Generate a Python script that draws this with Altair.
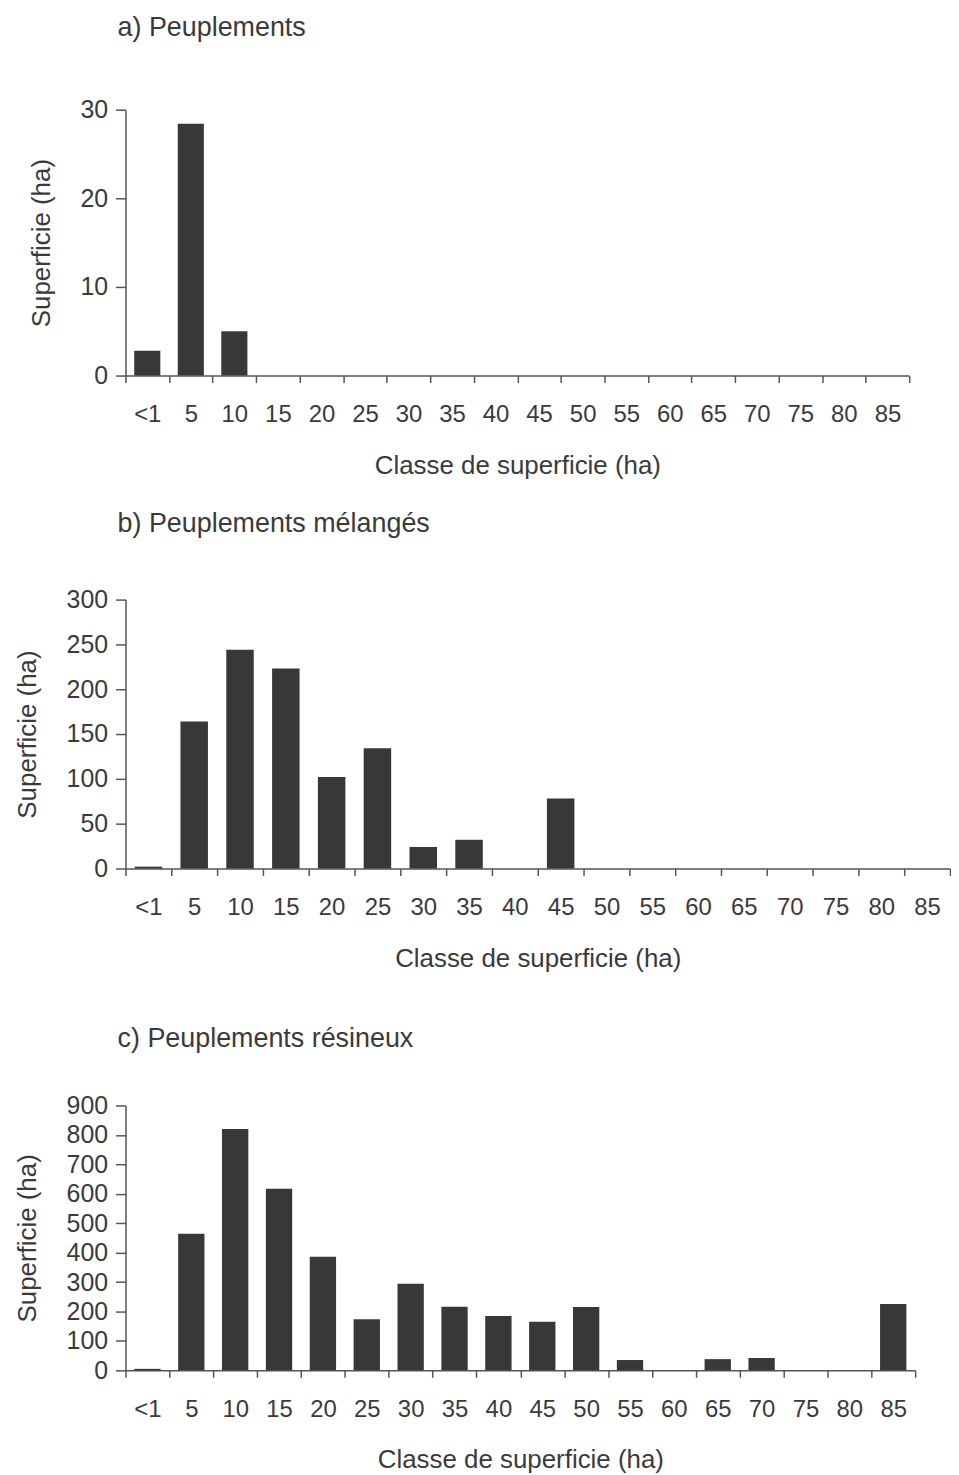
import altair as alt
import pandas as pd

categories = ["<1", "5", "10", "15", "20", "25", "30", "35", "40", "45",
              "50", "55", "60", "65", "70", "75", "80", "85"]

# a) Peuplements
peuplements = [2.8, 28.4, 5.0, 0, 0, 0, 0, 0, 0, 0, 0, 0, 0, 0, 0, 0, 0, 0]
# b) Peuplements mélangés
melanges = [2, 164, 244, 223, 102, 134, 24, 32, 0, 78, 0, 0, 0, 0, 0, 0, 0, 0]
# c) Peuplements résineux
resineux = [5, 464, 820, 617, 386, 174, 294, 216, 185, 165, 215, 35, 0, 38, 42, 0, 0, 225]

FONT = "Liberation Sans"
TEXT = "#3a3a3a"
LINE = "#555555"


def panel(values, title, ymax, step, width, height, toff):
    df = pd.DataFrame({"classe": categories, "superficie": values})
    return (
        alt.Chart(
            df,
            title=alt.Title(
                title, anchor="start", frame="group", dx=-8, offset=toff,
                fontSize=27, fontWeight="normal", color=TEXT, font=FONT,
            ),
        )
        .mark_bar(color="#383838", width=alt.RelativeBandSize(0.6))
        .encode(
            x=alt.X(
                "classe:N", sort=categories,
                scale=alt.Scale(paddingInner=0, paddingOuter=0),
                axis=alt.Axis(
                    title="Classe de superficie (ha)", labelAngle=0,
                    tickBand="extent", tickSize=7, labelPadding=20,
                    titlePadding=26, labelFontSize=24, titleFontSize=26,
                ),
            ),
            y=alt.Y(
                "superficie:Q",
                scale=alt.Scale(domain=[0, ymax], nice=False),
                axis=alt.Axis(
                    values=list(range(0, ymax + 1, step)),
                    title="Superficie (ha)", tickSize=10, labelPadding=8,
                    titlePadding=26, labelFontSize=25, titleFontSize=26,
                    grid=False,
                ),
            ),
        )
        .properties(width=width, height=height)
    )


a = panel(peuplements, "a)  Peuplements", 30, 10, 787, 267, 56)
b = panel(melanges, "b)  Peuplements mélangés", 300, 50, 828, 270, 50)
c = panel(resineux, "c)  Peuplements résineux", 900, 100, 793, 266, 41)

chart = (
    alt.vconcat(alt.vconcat(a, b, spacing=32), c, spacing=54)
    .configure(font=FONT, padding={"left": 6, "top": 3, "right": 0, "bottom": 0})
    .configure_view(stroke=None)
    .configure_axis(
        domainColor=LINE, tickColor=LINE, labelColor=TEXT, titleColor=TEXT,
        labelFont=FONT, titleFont=FONT, titleFontWeight="normal",
        domainWidth=1.5, tickWidth=1.5,
    )
)

chart.save("out.html", embed_options={"renderer": "svg", "actions": False})
